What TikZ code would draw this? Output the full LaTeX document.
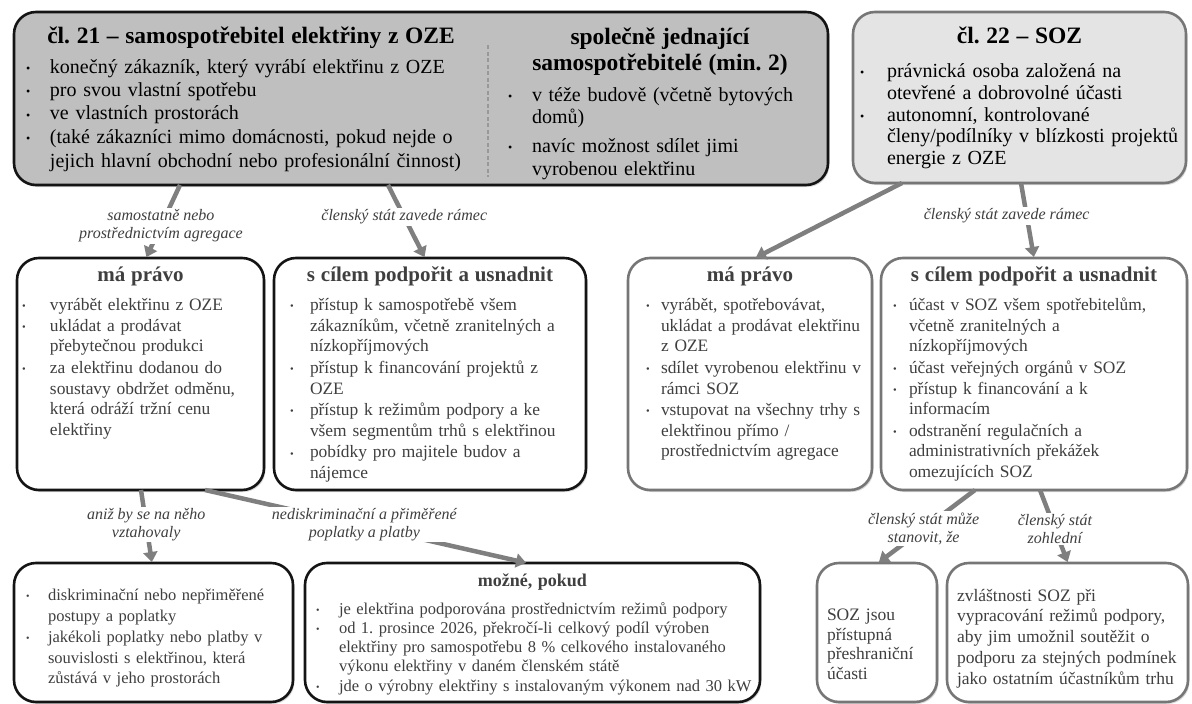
\documentclass[tikz,border=0pt]{standalone}
\usepackage{fontspec}
\usepackage{graphicx}
\setmainfont{Liberation Serif}
\usetikzlibrary{arrows.meta,positioning,shadows}
\definecolor{cInk}{HTML}{141414}
\definecolor{cDark}{HTML}{BFBFBF}
\definecolor{cLight}{HTML}{E4E4E4}
\definecolor{cEdge}{HTML}{767676}
\definecolor{cText}{HTML}{3F3F3F}
\definecolor{cLink}{HTML}{7F7F7F}
\lineskiplimit=-10pt
\frenchspacing
\newlength{\bhang}
\newcommand{\bdot}{\raisebox{0.04em}{\scalebox{0.6}{\textbullet}}}
\newcommand{\bitem}[1]{\par\noindent\makebox[\bhang][l]{\bdot}\begin{tabular}[t]{@{}l@{}}#1\end{tabular}\par}
\newcommand{\hd}[3]{{\fontsize{#1}{#2}\selectfont\bfseries\centering #3\par}}
\tikzset{
  box/.style={rounded corners=22pt, line width=2.6pt, anchor=north west,
              inner ysep=0pt, outer sep=0pt,
              drop shadow={shadow xshift=1.5pt, shadow yshift=-2pt, opacity=0.3}},
  darkbox/.style={box, draw=cInk, fill=cDark},
  lightbox/.style={box, draw=cEdge, fill=cLight},
  inkbox/.style={box, draw=cInk, fill=white, text=cText},
  greybox/.style={box, draw=cEdge, fill=white, text=cText},
  txt/.style={inner sep=0pt, outer sep=0pt},
  bhang/.code={\setlength{\bhang}{#1}},
  link/.style={-{Triangle[length=10pt,width=14pt]}, line width=4.5pt, draw=cLink, shorten >=1pt},
  note/.style={font=\fontsize{16}{18}\selectfont\itshape, text=cText, fill=white,
               align=center, inner sep=1.5pt},
  sep/.style={draw=cEdge!75, line width=1.4pt, dash pattern=on 4pt off 2.5pt},
  row/.style={font=\fontsize{17.4}{20.6}\selectfont, text height=23pt, text depth=209pt},
}

\begin{document}
\begin{tikzpicture}[x=1pt, y=-1pt]
  \useasboundingbox (0,0) rectangle (1192,704);

  \node[darkbox, minimum width=814pt, minimum height=173pt] (A) at (14,12) {};
  \node[txt, font=\fontsize{20}{23.5}\selectfont, text width=450pt, text height=31pt, text depth=130pt,
        bhang=24pt, below right=0pt and 12pt of A.north west] (A1) {%
    \hd{23.5}{26}{čl. 21 – samospotřebitel elektřiny z OZE}\vspace{6.5pt}
    \bitem{konečný zákazník, který vyrábí elektřinu z OZE}
    \bitem{pro svou vlastní spotřebu}
    \bitem{ve vlastních prostorách}
    \bitem{(také zákazníci mimo domácnosti, pokud nejde o\\jejich hlavní obchodní nebo profesionální činnost)}};
  \node[txt, font=\fontsize{20}{23}\selectfont, text width=304pt, text height=32pt, text depth=130pt,
        bhang=24pt, below right=0pt and 494pt of A.north west] (A2) {%
    \hd{23.5}{26}{společně jednající\\samospotřebitelé (min. 2)}\vspace{8pt}
    \bitem{v téže budově (včetně bytových\\domů)}\vspace{4pt}
    \bitem{navíc možnost sdílet jimi\\vyrobenou elektřinu}};
  \draw[sep] ([xshift=474pt, yshift=-33pt]A.north west) -- ([xshift=474pt, yshift=8pt]A.south west);

  \node[lightbox, font=\fontsize{20}{21.5}\selectfont, inner xsep=7pt, text width=319pt,
        text height=31pt, text depth=140pt, bhang=27pt] (B) at (853,12) {%
    \hd{23.5}{26}{čl. 22 – SOZ}\vspace{13pt}
    \bitem{právnická osoba založená na\\otevřené a dobrovolné účasti}
    \bitem{autonomní, kontrolované\\členy/podílníky v blízkosti projektů\\energie z OZE}};

  % druhá řada
  \node[inkbox, row, inner xsep=5pt, text width=237pt, bhang=28pt] (C) at (17,258) {%
    \hd{21}{24}{má právo}\vspace{9pt}
    \bitem{vyrábět elektřinu z OZE}
    \bitem{ukládat a prodávat\\přebytečnou produkci}
    \bitem{za elektřinu dodanou do\\soustavy obdržet odměnu,\\která odráží tržní cenu\\elektřiny}};
  \node[inkbox, row, inner xsep=16pt, text width=280pt, bhang=20pt] (D) at (274,258) {%
    \hd{21}{24}{s cílem podpořit a usnadnit}\vspace{9pt}
    \bitem{přístup k samospotřebě všem\\zákazníkům, včetně zranitelných a\\nízkopříjmových}
    \bitem{přístup k financování projektů z\\OZE}
    \bitem{přístup k režimům podpory a ke\\všem segmentům trhů s elektřinou}
    \bitem{pobídky pro majitele budov a\\nájemce}};
  \node[greybox, row, inner xsep=18pt, text width=208pt, bhang=15pt] (E) at (628,258) {%
    \hd{21}{24}{má právo}\vspace{9pt}
    \bitem{vyrábět, spotřebovávat,\\ukládat a prodávat elektřinu\\z OZE}
    \bitem{sdílet vyrobenou elektřinu v\\rámci SOZ}
    \bitem{vstupovat na všechny trhy s\\elektřinou přímo /\\prostřednictvím agregace}};
  \node[greybox, row, inner xsep=12pt, text width=282pt, bhang=16pt] (F) at (881,258) {%
    \hd{21}{24}{s cílem podpořit a usnadnit}\vspace{9pt}
    \bitem{účast v SOZ všem spotřebitelům,\\včetně zranitelných a\\nízkopříjmových}
    \bitem{účast veřejných orgánů v SOZ}
    \bitem{přístup k financování a k\\informacím}
    \bitem{odstranění regulačních a\\administrativních překážek\\omezujících SOZ}};

  % třetí řada
  \node[inkbox, font=\fontsize{16.5}{20.5}\selectfont, inner xsep=12pt, text width=255pt,
        text height=17pt, text depth=122pt, bhang=22pt] (G) at (14,563) {%
    \bitem{diskriminační nebo nepřiměřené\\postupy a poplatky}
    \bitem{jakékoli poplatky nebo platby v\\souvislosti s elektřinou, která\\zůstává v jeho prostorách}};
  \node[inkbox, font=\fontsize{16.5}{19}\selectfont, inner xsep=11pt, text width=433pt,
        text height=23pt, text depth=116pt, bhang=23pt] (H) at (305,563) {%
    \hd{18}{20}{možné, pokud}\vspace{9pt}
    \bitem{je elektřina podporována prostřednictvím režimů podpory}
    \bitem{od 1. prosince 2026, překročí-li celkový podíl výroben\\elektřiny pro samospotřebu 8~\% celkového instalovaného\\výkonu elektřiny v daném členském státě}
    \bitem{jde o výrobny elektřiny s instalovaným výkonem nad 30 kW}};
  \node[greybox, font=\fontsize{17.5}{19.5}\selectfont, inner xsep=10pt, text width=100pt,
        text height=57.5pt, text depth=81.5pt] (I) at (817,563) {%
    \begin{tabular}[t]{@{}l@{}}SOZ jsou\\přístupná\\přeshraniční\\účasti\end{tabular}};
  \node[greybox, font=\fontsize{17.5}{20.8}\selectfont, inner xsep=10pt, text width=221pt,
        text height=38pt, text depth=101pt] (J) at (947,563) {%
    \begin{tabular}[t]{@{}l@{}}zvláštnosti SOZ při\\vypracování režimů podpory,\\aby jim umožnil soutěžit o\\podporu za stejných podmínek\\jako ostatním účastníkům trhu\end{tabular}};

  \draw[link] ([xshift=166pt]A.south west) -- node[note, pos=0.56] (n1) {samostatně nebo\\prostřednictvím agregace} ([xshift=129pt]C.north west);
  \draw[link] ([xshift=374pt]A.south west) -- node[note, pos=0.44] (n2) {členský stát zavede rámec} ([xshift=151pt]D.north west);
  \draw[link] ([xshift=49pt]B.south west) -- ([xshift=127pt]E.north west);
  \draw[link] ([xshift=168pt]B.south west) -- node[note, pos=0.44, xshift=-20pt] (n3) {členský stát zavede rámec} ([xshift=153pt]F.north west);
  \draw[link] ([xshift=124pt]C.south west) -- node[note, pos=0.47] (n4) {aniž by se na něho\\vztahovaly} ([xshift=138pt]G.north west);
  \draw[link] ([xshift=188pt]C.south west) -- node[note, pos=0.47, xshift=8pt] (n5) {nediskriminační a přiměřené\\poplatky a platby} ([xshift=222pt]H.north west);
  \draw[link] ([xshift=94pt]F.south west) -- node[note, pos=0.53] (n6) {členský stát může\\stanovit, že} ([xshift=61pt]I.north west);
  \draw[link] ([xshift=159pt]F.south west) -- node[note, pos=0.53] (n7) {členský stát\\zohlední} ([xshift=121pt]J.north west);
\end{tikzpicture}
\end{document}
